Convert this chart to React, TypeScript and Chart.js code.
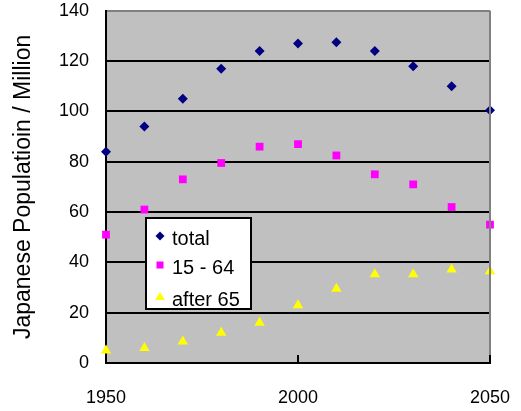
import React, { useEffect, useRef } from "react";
import { Chart, registerables } from "chart.js";

Chart.register(...registerables);

const years = [1950, 1960, 1970, 1980, 1990, 2000, 2010, 2020, 2030, 2040, 2050];
const totalValues = [84, 94, 105, 117, 124, 127, 127.5, 124, 118, 110, 100.5];
const workingAgeValues = [51, 61, 73, 79.5, 86, 87, 82.5, 75, 71, 62, 55];
const elderlyValues = [5, 6, 8.5, 12, 16, 23, 29.5, 35.3, 35.3, 37.2, 36.5];
const seriesNames = ["total", "15 - 64", "after 65"];
const yAxisTitle = "Japanese Populatioin / Million";

const toPoints = (vals: number[]) => years.map((y, i) => ({ x: y, y: vals[i] }));

const FONT = "'Liberation Sans', Arial, sans-serif";

const plotPlugin = {
  id: "plotDecor",
  beforeDraw(chart: any) {
    const { ctx, chartArea } = chart;
    ctx.save();
    ctx.fillStyle = "#c0c0c0";
    ctx.fillRect(chartArea.left, chartArea.top, chartArea.right - chartArea.left, chartArea.bottom - chartArea.top);
    ctx.restore();
  },
  afterDraw(chart: any) {
    const { ctx, chartArea } = chart;
    const xs = chart.scales.x;
    ctx.save();
    // right border
    ctx.strokeStyle = "#808080";
    ctx.lineWidth = 2;
    ctx.beginPath();
    ctx.moveTo(chartArea.right, chartArea.top);
    ctx.lineTo(chartArea.right, chartArea.bottom);
    ctx.stroke();
    // inward x ticks
    ctx.strokeStyle = "#000";
    ctx.lineWidth = 2;
    xs.ticks.forEach((t: any) => {
      const px = xs.getPixelForValue(t.value);
      ctx.beginPath();
      ctx.moveTo(px, chartArea.bottom);
      ctx.lineTo(px, chartArea.bottom - 8);
      ctx.stroke();
    });
    // legend box
    const bx = 146, by = 218, bw = 105, bh = 91;
    ctx.fillStyle = "#fff";
    ctx.fillRect(bx, by, bw, bh);
    ctx.strokeStyle = "#000";
    ctx.lineWidth = 2;
    ctx.strokeRect(bx, by, bw, bh);
    const colors = ["#000080", "#ff00ff", "#ffff00"];
    const rowY = [236, 265, 297];
    const mx = 160;
    // diamond
    ctx.fillStyle = colors[0];
    ctx.beginPath();
    ctx.moveTo(mx, rowY[0] - 4.5);
    ctx.lineTo(mx + 4.5, rowY[0]);
    ctx.lineTo(mx, rowY[0] + 4.5);
    ctx.lineTo(mx - 4.5, rowY[0]);
    ctx.closePath();
    ctx.fill();
    // square
    ctx.fillStyle = colors[1];
    ctx.fillRect(mx - 3.5, rowY[1] - 3.5, 7, 7);
    // triangle
    ctx.fillStyle = colors[2];
    ctx.beginPath();
    ctx.moveTo(mx, rowY[2] - 5);
    ctx.lineTo(mx + 5, rowY[2] + 3);
    ctx.lineTo(mx - 5, rowY[2] + 3);
    ctx.closePath();
    ctx.fill();
    ctx.fillStyle = "#000";
    ctx.font = `20px ${FONT}`;
    ctx.textBaseline = "alphabetic";
    ctx.textAlign = "left";
    const baselines = [245, 274, 306];
    seriesNames.forEach((n, i) => ctx.fillText(n, 172, baselines[i]));
    ctx.restore();
  },
};

export default function App() {
  const ref = useRef<HTMLCanvasElement | null>(null);
  useEffect(() => {
    if (!ref.current) return;
    const chart = new Chart(ref.current, {
      type: "scatter",
      data: {
        datasets: [
          {
            label: seriesNames[0],
            data: toPoints(totalValues),
            pointStyle: "rectRot",
            pointRadius: 5,
            backgroundColor: "#000080",
            borderColor: "#000080",
            borderWidth: 0,
            clip: false,
          },
          {
            label: seriesNames[1],
            data: toPoints(workingAgeValues),
            pointStyle: "rect",
            pointRadius: 5.5,
            backgroundColor: "#ff00ff",
            borderColor: "#ff00ff",
            borderWidth: 0,
            clip: false,
          },
          {
            label: seriesNames[2],
            data: toPoints(elderlyValues),
            pointStyle: "triangle",
            pointRadius: 6,
            backgroundColor: "#ffff00",
            borderColor: "#ffff00",
            borderWidth: 0,
            clip: false,
          },
        ] as any,
      },
      options: {
        animation: false,
        responsive: false,
        events: [],
        layout: { padding: { left: 0, top: 10, right: 31, bottom: 0 } },
        plugins: { legend: { display: false }, tooltip: { enabled: false } },
        scales: {
          x: {
            type: "linear",
            min: 1950,
            max: 2050,
            ticks: {
              stepSize: 50,
              color: "#000",
              font: { family: FONT, size: 18 },
              padding: 0,
              maxRotation: 0,
              callback: (v: any) => String(v),
            },
            grid: {
              display: true,
              drawOnChartArea: false,
              drawTicks: true,
              tickLength: 24,
              tickColor: "rgba(0,0,0,0)",
              color: "rgba(0,0,0,0)",
            },
            border: { display: true, color: "#000", width: 2 },
            afterFit: (s: any) => { s.height = 48; },
          },
          y: {
            min: 0,
            max: 140,
            ticks: { stepSize: 20, color: "#000", font: { family: FONT, size: 18 }, padding: 0 },
            grid: {
              color: (c: any) => (c.tick && c.tick.value === 140 ? "#808080" : "#000"),
              lineWidth: 2,
              drawTicks: true,
              tickLength: 17,
              tickColor: "rgba(0,0,0,0)",
            },
            border: { display: true, color: "#000", width: 2 },
            title: {
              display: true,
              text: yAxisTitle,
              color: "#000",
              font: { family: FONT, size: 23 },
              padding: { top: 10, bottom: 0 },
            },
            afterFit: (s: any) => { s.width = 106; },
          },
        },
      } as any,
      plugins: [plotPlugin],
    });
    return () => chart.destroy();
  }, []);
  return (
    <div style={{ position: "fixed", left: 0, top: 0, width: 521, height: 411, background: "#fff" }}>
      <canvas ref={ref} width={521} height={411} />
    </div>
  );
}
